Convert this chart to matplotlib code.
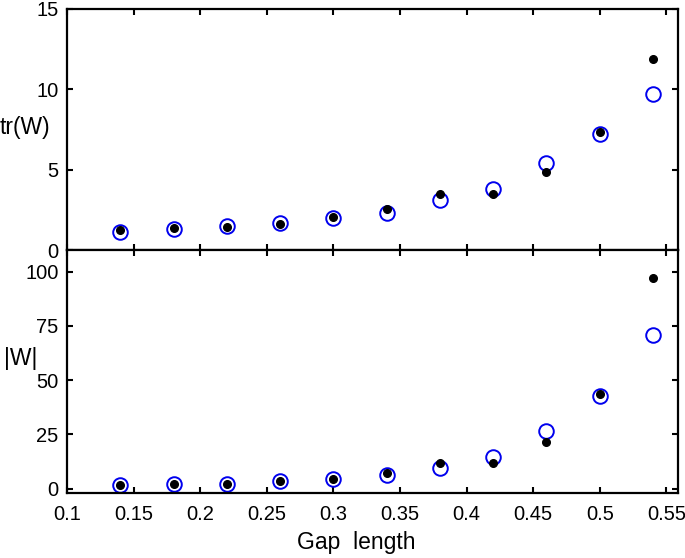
import matplotlib
matplotlib.use("Agg")
import matplotlib.pyplot as plt

plt.rcParams['font.family'] = ['Liberation Sans', 'DejaVu Sans']

gap = [0.14, 0.18, 0.22, 0.26, 0.30, 0.34, 0.38, 0.42, 0.46, 0.50, 0.54]
tr_black = [1.24, 1.37, 1.41, 1.64, 2.03, 2.53, 3.49, 3.46, 4.85, 7.32, 11.89]
tr_blue = [1.14, 1.31, 1.47, 1.70, 2.01, 2.32, 3.09, 3.82, 5.41, 7.20, 9.73]
det_black = [1.7, 2.2, 2.2, 3.5, 4.6, 7.3, 12.0, 12.0, 21.6, 43.5, 97.1]
det_blue = [1.7, 2.3, 2.3, 3.4, 4.6, 6.2, 9.7, 14.4, 26.4, 42.6, 70.7]

xticks = [0.1, 0.15, 0.2, 0.25, 0.3, 0.35, 0.4, 0.45, 0.5, 0.55]
xticklabels = ['0.1', '0.15', '0.2', '0.25', '0.3', '0.35', '0.4', '0.45', '0.5', '0.55']
top_yticks = [0, 5, 10, 15]
bot_yticks = [0, 25, 50, 75, 100]

W, H = 685, 558
fig = plt.figure(figsize=(W / 100, H / 100), dpi=100)
L, R = 67 / W, 678 / W
ax1 = fig.add_axes([L, 1 - 250 / H, R - L, (250 - 9) / H])
ax2 = fig.add_axes([L, 1 - 493 / H, R - L, (493 - 250) / H])

for ax, yb, yo, yt, ylim in [
    (ax1, tr_black, tr_blue, top_yticks, (0, 15)),
    (ax2, det_black, det_blue, bot_yticks, (-2, 110)),
]:
    ax.plot(gap, yb, 'o', color='black', markersize=5.5, zorder=3)
    ax.plot(gap, yo, 'o', markerfacecolor='none', markeredgecolor='#0000ee',
            markersize=10.5, markeredgewidth=1.4, zorder=2)
    ax.set_xlim(0.1, 0.5588)
    ax.set_ylim(*ylim)
    ax.set_yticks(yt)
    ax.set_xticks(xticks)
    ax.tick_params(direction='in', length=4, width=1.5, top=True, right=True,
                   labelsize=14.5, pad=6)
    for s in ax.spines.values():
        s.set_linewidth(1.6)

ax1.set_xticklabels([])
ax2.set_xticklabels(xticklabels)
ax2.tick_params(axis='x', pad=9)

fig.text(25 / W, 1 - 128 / H, 'tr(W)', fontsize=16.5, ha='center', va='center')
fig.text(21 / W, 1 - 358 / H, '|W|', fontsize=16.5, ha='center', va='center')
fig.text(356 / W, 1 - 542 / H, 'Gap  length', fontsize=16.5, ha='center', va='center')

fig.savefig('out.png', dpi=100)
